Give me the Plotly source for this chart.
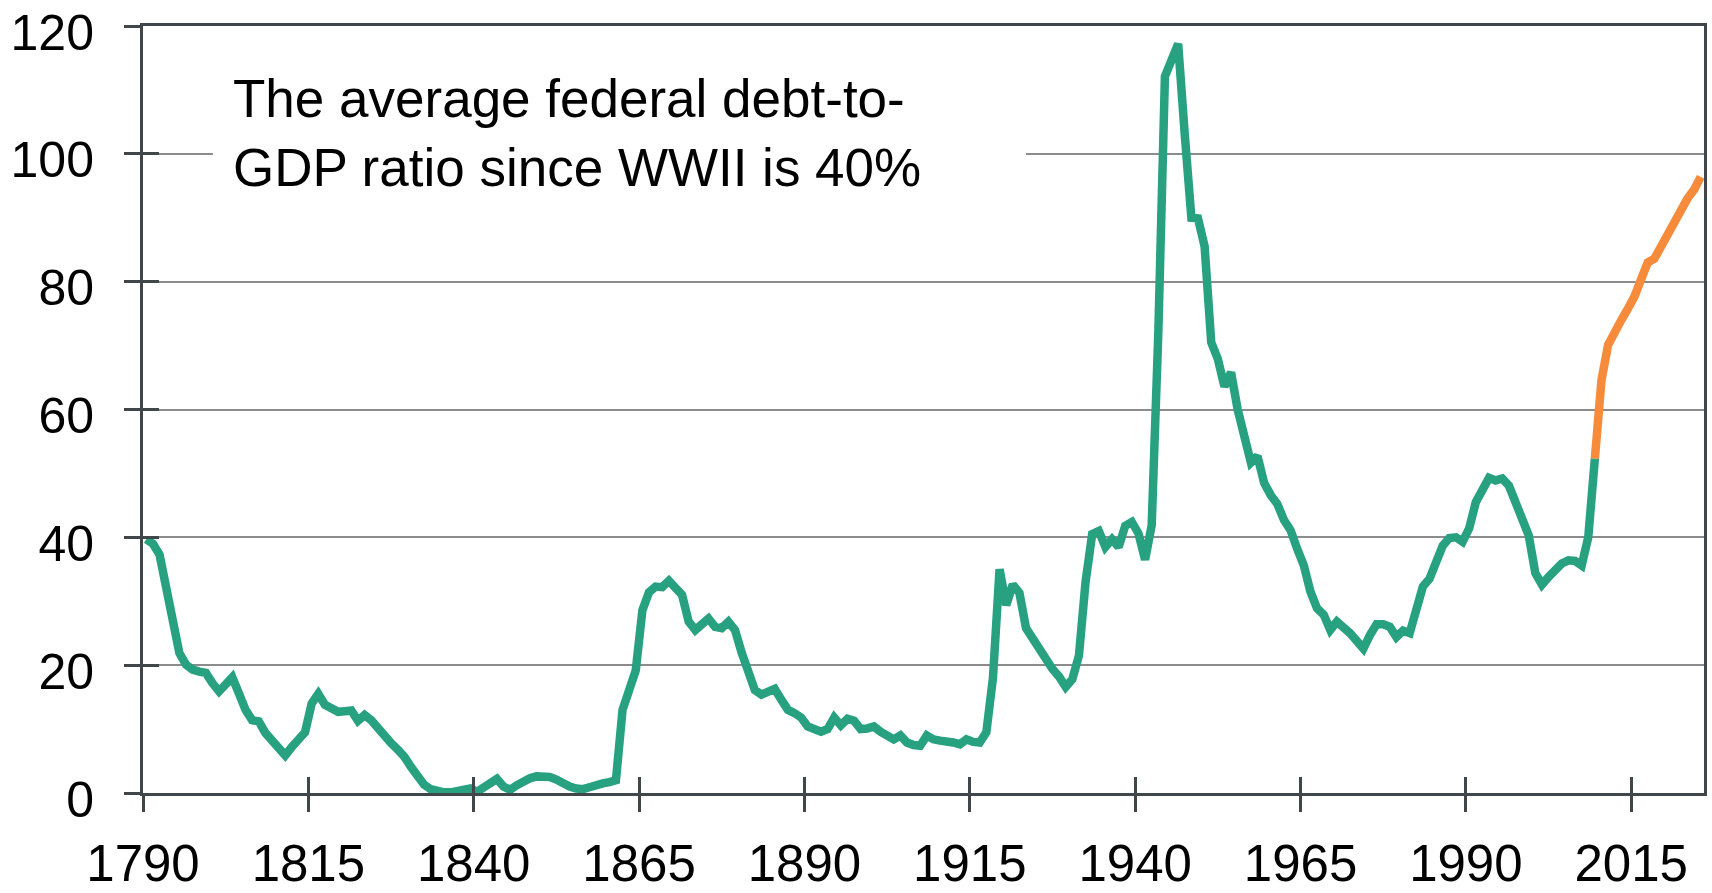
import plotly.graph_objects as go

# ---- data (federal debt, % of GDP) ----
years_hist = list(range(1790, 2010))
debt_hist = [
    39.7, 39.0, 37.3, 32.3, 26.0, 21.9, 20.1, 19.3, 19.0, 18.8,   # 1790-1799
    17.2, 15.9, 17.0, 18.1, 15.6, 13.0, 11.4, 11.2, 9.4, 8.3,     # 1800-1809
    7.2, 5.9, 7.2, 8.4, 9.5, 14.0, 15.5, 13.8, 13.1, 12.7,        # 1810-1819
    12.8, 12.9, 11.3, 12.2, 11.4, 10.1, 8.9, 7.8, 6.8, 5.7,       # 1820-1829
    4.1, 2.4, 1.3, 0.6, 0.3, 0.1, 0.1, 0.2, 0.3, 0.7,             # 1830-1839
    0.2, 0.8, 1.3, 2.2, 1.0, 0.5, 1.2, 1.8, 2.3, 2.6,             # 1840-1849
    2.6, 2.5, 2.1, 1.5, 1.0, 0.7, 0.6, 0.9, 1.3, 1.5,             # 1850-1859
    1.7, 2.0, 13.0, 16.4, 19.2, 28.6, 31.4, 32.3, 32.2, 33.2,     # 1860-1869
    32.1, 31.0, 26.8, 25.5, 26.4, 27.3, 26.0, 25.8, 26.8, 25.5,   # 1870-1879
    22.0, 18.8, 16.1, 15.4, 15.8, 16.3, 14.6, 13.0, 12.5, 11.8,   # 1880-1889
    10.4, 10.0, 9.6, 10.0, 11.8, 10.6, 11.6, 11.3, 10.0, 10.1,    # 1890-1899
    10.4, 9.6, 8.9, 8.4, 9.0, 7.9, 7.5, 7.4, 9.0, 8.4,            # 1900-1909
    8.2, 8.2, 7.9, 7.6, 8.4, 8.0, 7.9, 9.5, 18.0, 35.0,           # 1910-1919
    29.4, 32.6, 31.3, 25.8, 24.2, 22.0, 20.5, 19.4, 18.2, 16.6,   # 1920-1929
    17.8, 21.5, 33.0, 40.5, 41.0, 38.5, 39.7, 38.5, 41.8, 42.4,   # 1930-1939
    40.6, 36.5, 41.9, 72.0, 112.1, 114.5, 117.2, 103.0, 90.0, 89.9,  # 1940-1949
    85.5, 70.5, 67.9, 63.6, 65.8, 60.0, 55.6, 51.7, 52.7, 48.5,   # 1950-1959
    46.6, 45.2, 42.7, 41.1, 38.2, 35.6, 31.5, 28.9, 27.9, 25.5,   # 1960-1969
    26.8, 26.0, 25.0, 23.8, 22.6, 24.7, 26.4, 26.4, 26.0, 24.4,   # 1970-1979
    25.4, 25.0, 28.5, 32.3, 33.5, 35.8, 38.7, 39.9, 40.0, 39.3,   # 1980-1989
    41.4, 45.5, 47.5, 49.3, 48.9, 49.2, 48.1, 45.5, 43.0, 40.3,   # 1990-1999
    34.4, 32.6, 33.8, 35.1, 35.9, 36.4, 36.3, 35.6, 40.0, 52.3,   # 2000-2009
]

years_proj = list(range(2009, 2026))
debt_proj = [
    52.3, 64.6, 70.1, 72.3, 74.0, 75.8, 77.7, 80.4, 83.0,
    83.6, 85.6, 87.6, 89.6, 91.5, 93.0, 94.4, 96.4,
]

x_tick_years = [1790, 1815, 1840, 1865, 1890, 1915, 1940, 1965, 1990, 2015]
y_tick_values = [0, 20, 40, 60, 80, 100, 120]
note_text = "The average federal debt-to-<br>GDP ratio since WWII is 40%"

# ---- styles ----
GREEN = "#27a180"
ORANGE = "#f58b3b"
AXIS = "#41464a"
GRID = "#8c8c8c"
FONT = "Liberation Sans, Arial, Helvetica, sans-serif"

X_RANGE = [1790, 2026]
Y_RANGE = [0, 120]


def mid_year(ys):
    # annual values are drawn at the middle of each year
    return [y + 0.5 for y in ys]


fig = go.Figure()
fig.add_trace(go.Scatter(
    x=mid_year(years_hist), y=debt_hist, mode="lines",
    line=dict(color=GREEN, width=8.5), hoverinfo="x+y", showlegend=False))
fig.add_trace(go.Scatter(
    x=mid_year(years_proj), y=debt_proj, mode="lines",
    line=dict(color=ORANGE, width=8.5), hoverinfo="x+y", showlegend=False))
# invisible trace on overlay axes (these only draw the inner half of the ticks)
fig.add_trace(go.Scatter(
    x=mid_year(years_hist), y=debt_hist, mode="lines", xaxis="x2", yaxis="y2",
    line=dict(width=0), opacity=0, hoverinfo="skip", showlegend=False))

tick_common = dict(ticklen=16, tickwidth=2.5, tickcolor=AXIS)

fig.update_layout(
    width=1712, height=893, autosize=False,
    margin=dict(l=143, r=8, t=26, b=100, pad=0, autoexpand=False),
    paper_bgcolor="white", plot_bgcolor="white",
    showlegend=False,
    font=dict(family=FONT, size=52, color="black"),
    xaxis=dict(
        range=X_RANGE, tickmode="array", tickvals=x_tick_years,
        ticks="outside", **tick_common, automargin=False,
        showline=True, linecolor=AXIS, linewidth=3, mirror=True,
        showgrid=False, zeroline=False, ticklabelstandoff=8,
        ticklabeloverflow="allow",
        tickfont=dict(family=FONT, size=51, color="black"),
    ),
    yaxis=dict(
        range=Y_RANGE, tickmode="array", tickvals=y_tick_values,
        ticks="outside", **tick_common, automargin=False,
        showline=True, linecolor=AXIS, linewidth=3, mirror=True,
        showgrid=True, gridcolor=GRID, gridwidth=2, zeroline=False,
        ticklabelstandoff=20, ticklabelshift=6, ticklabeloverflow="allow",
        tickfont=dict(family=FONT, size=50, color="black"),
    ),
    xaxis2=dict(
        overlaying="x", anchor="y", range=X_RANGE, tickmode="array",
        tickvals=x_tick_years, ticks="inside", **tick_common, automargin=False,
        showticklabels=False, showgrid=False, zeroline=False, showline=False,
    ),
    yaxis2=dict(
        overlaying="y", anchor="x", range=Y_RANGE, tickmode="array",
        tickvals=y_tick_values, ticks="inside", **tick_common, automargin=False,
        showticklabels=False, showgrid=False, zeroline=False, showline=False,
    ),
)

# white text box that interrupts the gridline
fig.add_shape(type="rect", xref="paper", yref="paper",
              x0=0.0448, x1=0.5657, y0=0.77, y1=0.955,
              fillcolor="white", line=dict(width=0), layer="above")
fig.add_annotation(
    text=note_text, xref="paper", yref="paper", x=0.0563, y=0.86,
    xanchor="left", yanchor="middle", align="left", showarrow=False,
    font=dict(family=FONT, size=53, color="black"),
)

fig.write_html("out.html", include_plotlyjs=True,
               config={"displayModeBar": False, "responsive": False},
               post_script="document.body.style.margin='0';document.body.style.overflow='hidden';")
